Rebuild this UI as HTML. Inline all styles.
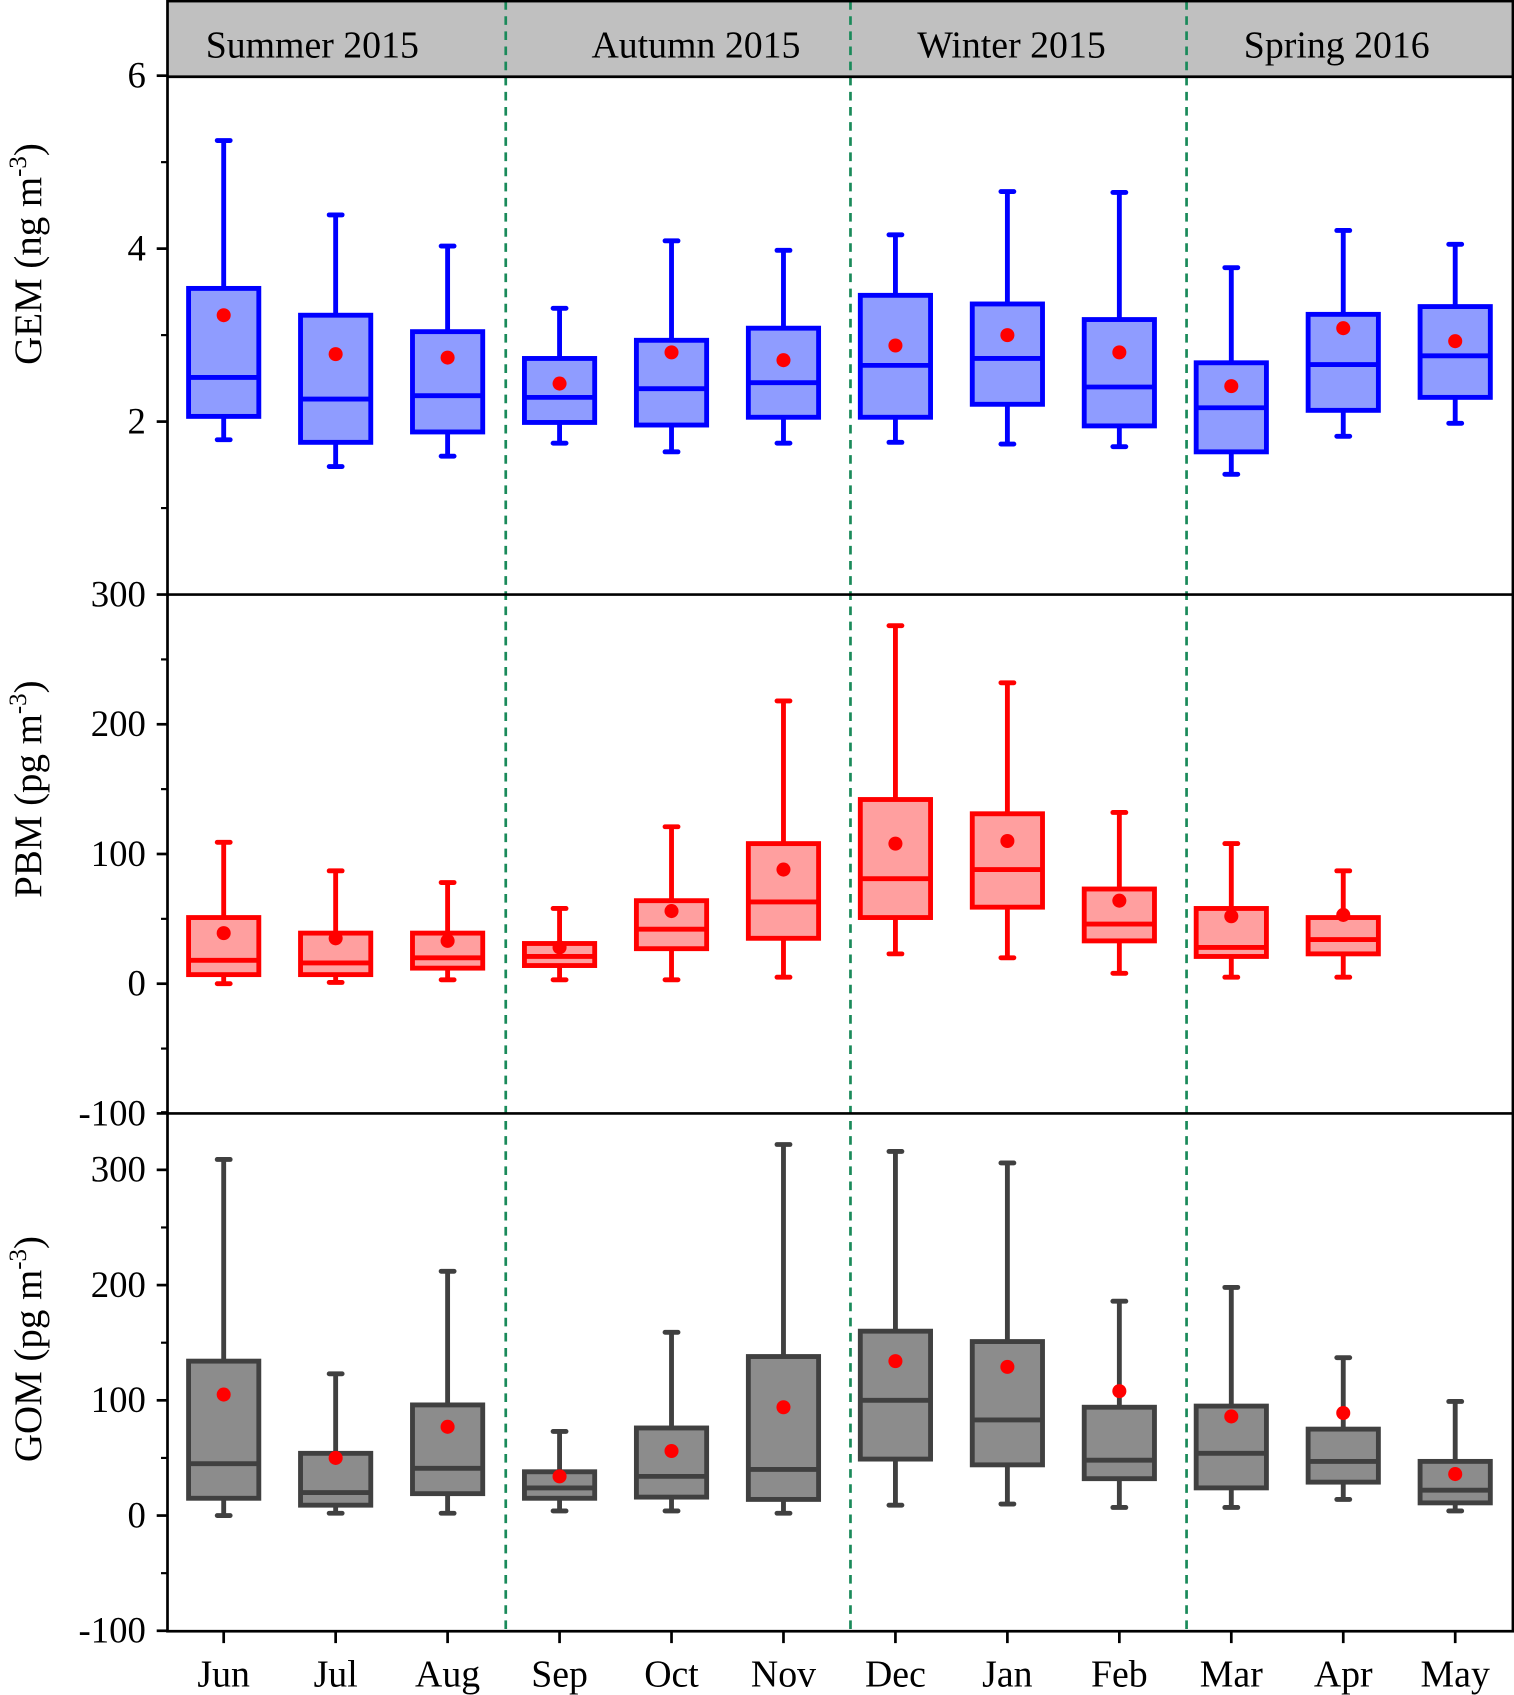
<!DOCTYPE html>
<html><head><meta charset="utf-8"><style>
html,body{margin:0;padding:0;background:#fff}
svg{display:block}
text{font-family:"Liberation Serif","Times New Roman",serif;fill:#000}
</style></head><body>
<svg id="chart" width="1514" height="1695" viewBox="0 0 1401 1568" preserveAspectRatio="none" xmlns="http://www.w3.org/2000/svg">
<g id="bg"></g><g id="marks"></g><g id="fg"></g>
</svg>
<script>
const months = ["Jun","Jul","Aug","Sep","Oct","Nov","Dec","Jan","Feb","Mar","Apr","May"];
const seasons = ["Summer 2015","Autumn 2015","Winter 2015","Spring 2016"];
// [low, q1, median, q3, high]
const gemBoxes = [[1.79,2.06,2.51,3.54,5.25],[1.48,1.76,2.26,3.23,4.39],[1.60,1.88,2.30,3.04,4.03],[1.75,1.99,2.28,2.73,3.31],[1.65,1.96,2.38,2.94,4.09],[1.75,2.05,2.45,3.08,3.98],[1.76,2.05,2.65,3.46,4.16],[1.74,2.20,2.73,3.36,4.66],[1.71,1.95,2.40,3.18,4.65],[1.39,1.65,2.16,2.68,3.78],[1.83,2.13,2.66,3.24,4.21],[1.98,2.28,2.76,3.33,4.05]];
const gemMeans = [3.23,2.78,2.74,2.44,2.80,2.71,2.88,3.00,2.80,2.41,3.08,2.93];
const pbmBoxes = [[0,7,18,51,109],[1,7,16,39,87],[3,12,20,39,78],[3,14,21,31,58],[3,27,42,64,121],[5,35,63,108,218],[23,51,81,142,276],[20,59,88,131,232],[8,33,46,73,132],[5,21,28,58,108],[5,23,34,51,87],null];
const pbmMeans = [39,35,33,28,56,88,108,110,64,52,53,null];
const gomBoxes = [[0,15,45,134,309],[2,9,20,54,123],[2,19,41,96,212],[4,15,24,38,73],[4,16,34,76,159],[2,14,40,138,322],[9,49,100,160,316],[10,44,83,151,306],[7,32,48,94,186],[7,24,54,95,198],[14,29,47,75,137],[4,11,22,47,99]];
const gomMeans = [105,50,77,34,56,94,134,129,108,86,89,36];
const gemTicks = [2,4,6];
const pbmTicks = [-100,0,100,200,300];
const gomTicks = [-100,0,100,200,300];

const NS="http://www.w3.org/2000/svg";
const L=155,R=1400;
const xC=i=>207+i*103.6;
const yGem=v=>550-v*80;
const yPbm=v=>910-v*1.2;
const yGom=v=>1402-v*1.066;
function mk(p,tag,at){const e=document.createElementNS(NS,tag);for(const k in at)e.setAttribute(k,at[k]);p.appendChild(e);return e;}
const bg=document.getElementById('bg'),marks=document.getElementById('marks'),fg=document.getElementById('fg');

let hdr=mk(bg,'rect',{x:L,y:1,width:R-L,height:70,fill:'#c0c0c0'});


const seasonX=[289,644,936,1237];
seasons.forEach((s,i)=>{const t=mk(bg,'text',{x:seasonX[i],y:53,'font-size':35,'text-anchor':'middle'});t.textContent=s;

});
[468,787,1098].forEach(x=>{const l=mk(bg,'line',{x1:x,y1:1,x2:x,y2:1509,stroke:'#1a8a5a','stroke-width':2.5,'stroke-dasharray':'8,6'});

});

function panel(boxes,means,yf,stroke,fill,name){
  boxes.forEach((b,i)=>{
    if(!b)return;
    const g=mk(marks,'g',{});
    
    
    const x=xC(i),w=65,cw=12,sw=4.5;
    mk(g,'line',{x1:x,y1:yf(b[3]),x2:x,y2:yf(b[4]),stroke:stroke,'stroke-width':sw});
    mk(g,'line',{x1:x,y1:yf(b[1]),x2:x,y2:yf(b[0]),stroke:stroke,'stroke-width':sw});
    mk(g,'line',{x1:x-cw/2,y1:yf(b[4]),x2:x+cw/2,y2:yf(b[4]),stroke:stroke,'stroke-width':sw,'stroke-linecap':'round'});
    mk(g,'line',{x1:x-cw/2,y1:yf(b[0]),x2:x+cw/2,y2:yf(b[0]),stroke:stroke,'stroke-width':sw,'stroke-linecap':'round'});
    mk(g,'rect',{x:x-w/2,y:yf(b[3]),width:w,height:yf(b[1])-yf(b[3]),fill:fill,stroke:stroke,'stroke-width':sw});
    mk(g,'line',{x1:x-w/2,y1:yf(b[2]),x2:x+w/2,y2:yf(b[2]),stroke:stroke,'stroke-width':sw});
    if(means[i]!=null){const c=mk(g,'circle',{cx:x,cy:yf(means[i]),r:6.5,fill:'#ff0000'});
      
      }
  });
}
panel(gemBoxes,gemMeans,yGem,'#0000ff','#8f9cff','gem');
panel(pbmBoxes,pbmMeans,yPbm,'#ff0000','#ff9f9f','pbm');
panel(gomBoxes,gomMeans,yGom,'#404040','#8c8c8c','gom');

// frames
mk(fg,'rect',{x:L,y:1,width:R-L,height:1508,fill:'none',stroke:'#000','stroke-width':2.5});
[71,550,1030].forEach(y=>mk(fg,'line',{x1:L,y1:y,x2:R,y2:y,stroke:'#000','stroke-width':2.5}));

function axis(ticks,yf,minorStep,lo,hi,name){
  ticks.forEach(v=>{const y=yf(v);mk(fg,'line',{x1:L-10,y1:y,x2:L,y2:y,stroke:'#000','stroke-width':2.5});
    const t=mk(fg,'text',{x:L-20,y:y+11,'font-size':34,'text-anchor':'end'});t.textContent=v;
    
    });
  for(let v=lo;v<=hi+1e-9;v+=minorStep){if(ticks.some(t=>Math.abs(t-v)<1e-9))continue;const y=yf(v);
    mk(fg,'line',{x1:L-6,y1:y,x2:L,y2:y,stroke:'#000','stroke-width':2});}
}
axis(gemTicks,yGem,1,1,5,'gem');
axis(pbmTicks,yPbm,50,-50,250,'pbm');
axis(gomTicks,yGom,50,-50,350,'gom');

months.forEach((m,i)=>{const x=xC(i);mk(fg,'line',{x1:x,y1:1509,x2:x,y2:1520,stroke:'#000','stroke-width':2.5});
  const t=mk(fg,'text',{x:x,y:1560,'font-size':35,'text-anchor':'middle'});t.textContent=m;
  
  });

function ytitle(txt,unit,cy,name){
  const t=mk(fg,'text',{transform:`translate(38,${cy}) rotate(-90)`,'font-size':36,'text-anchor':'middle'});
  
  
  const a=document.createElementNS(NS,'tspan');a.textContent=txt+' ('+unit+' m';t.appendChild(a);
  const s=document.createElementNS(NS,'tspan');s.setAttribute('dy','-14');s.setAttribute('font-size','23');s.textContent='-3';t.appendChild(s);
  const c=document.createElementNS(NS,'tspan');c.setAttribute('dy','14');c.textContent=')';t.appendChild(c);
}
ytitle('GEM','ng',235,'gem-y-axis-title');
ytitle('PBM','pg',730,'pbm-y-axis-title');
ytitle('GOM','pg',1248,'gom-y-axis-title');
</script>
</body></html>
